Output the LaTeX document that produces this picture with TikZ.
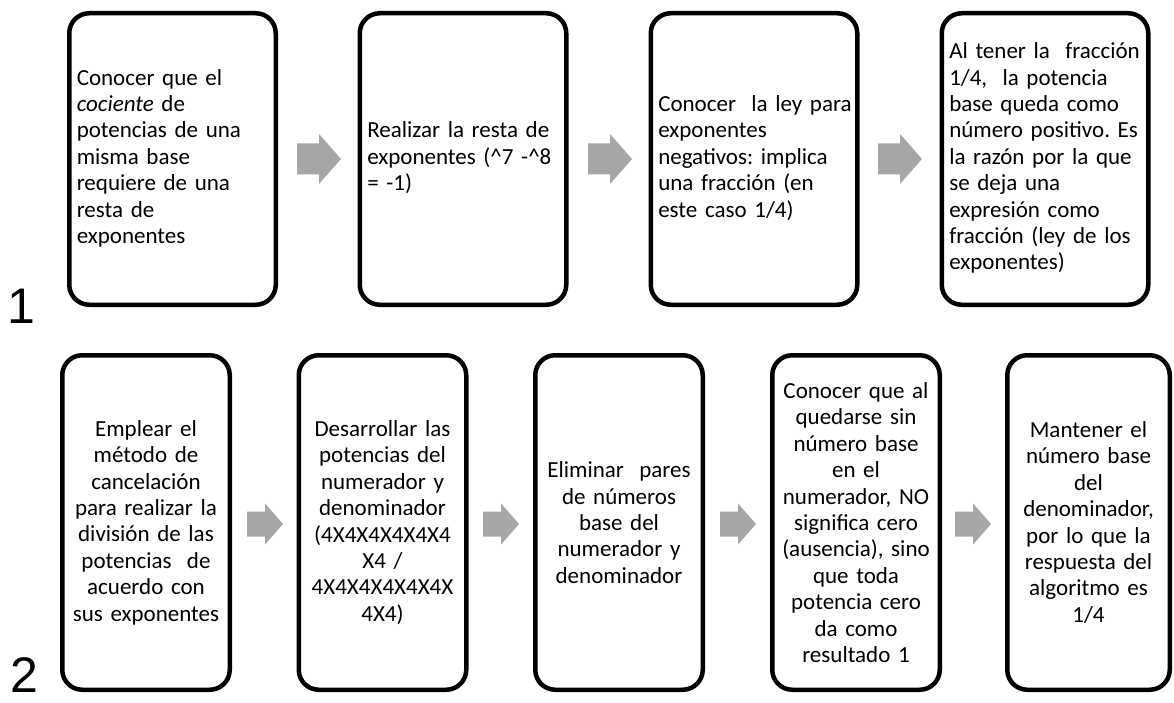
\documentclass[tikz,border=0pt]{standalone}
\usepackage{fontspec}
\setmainfont{Carlito}
\newfontfamily\numfont{Liberation Sans}
\definecolor{arrowfill}{RGB}{166,166,166}
% a block of lines set flush left, never re-wrapped
\newcommand\leftlines[1]{\begin{tabular}{@{}l@{}}#1\end{tabular}}
\tikzset{
  box/.style={draw=black, line width=4.5pt, rounded corners=20pt,
    inner xsep=7.5pt, inner ysep=0pt,
    font=\fontsize{23}{26.4}\selectfont\frenchspacing},
  topbox/.style={box, minimum width=206.5pt, text width=191.5pt,
    minimum height=291.5pt, align=left},
  botbox/.style={box, minimum width=167.5pt, text width=152.5pt,
    minimum height=334.5pt, align=center},
  rowlabel/.style={inner sep=0pt, anchor=base west,
    font=\numfont\fontsize{50}{60}\selectfont},
  % block arrow: length, shaft half-height, head half-height, head length
  pics/blockarrow/.style n args={4}{code={
    \fill[arrowfill] (0,-#2) -- ({#1-#4},-#2) -- ({#1-#4},-#3) -- (#1,0)
      -- ({#1-#4},#3) -- ({#1-#4},#2) -- (0,#2) -- cycle;}}
}
\begin{document}
\begin{tikzpicture}[x=1pt,y=-1pt]
\useasboundingbox[fill=white] (0,0) rectangle (1174,703);

% first row
\node[topbox] (a1) at (172.5,159) {\leftlines{Conocer que el\\\textit{cociente} de\\potencias de una\\misma base\\requiere de una\\resta de\\exponentes}};
\node[topbox] (a2) at (463,159) {\leftlines{Realizar la resta de\\exponentes (\^{}7 -\^{}8\\= -1)}};
\node[topbox] (a3) at (754,159) {\leftlines{Conocer\ \ la ley para\\exponentes\\negativos: implica\\una fracción (en\\este caso 1/4)}};
\node[topbox] (a4) at (1045,159) {\leftlines{Al tener la\ \ fracción\\1/4,\ \ la potencia\\base queda como\\número positivo. Es\\la razón por la que\\se deja una\\expresión como\\fracción (ley de los\\exponentes)}};

\pic at (297,159) {blockarrow={44}{15.5}{25}{22}};
\pic at (588,159) {blockarrow={44}{15.5}{25}{22}};
\pic at (878,159) {blockarrow={44}{15.5}{25}{22}};

\node[rowlabel] (n1) at (7,323) {1};

% second row
\node[botbox] (b1) at (146,522.5) {Emplear el\\método de\\cancelación\\para realizar la\\división de las\\potencias\ \ de\\acuerdo con\\sus exponentes};
\node[botbox] (b2) at (382.5,522.5) {Desarrollar las\\potencias del\\numerador y\\denominador\\(4X4X4X4X4X4\\X4 /\\4X4X4X4X4X4X\\4X4)};
\node[botbox] (b3) at (619,522.5) {Eliminar\ \ pares\\de números\\base del\\numerador y\\denominador};
\node[botbox] (b4) at (856,522.5) {Conocer que al\\quedarse sin\\número base\\en el\\numerador, NO\\significa cero\\(ausencia), sino\\que toda\\potencia cero\\da como\\resultado 1};
\node[botbox, minimum width=162.5pt, text width=147.5pt] (b5) at (1088.5,522.5) {Mantener el\\número base\\del\\denominador,\\por lo que la\\respuesta del\\algoritmo es\\1/4};

\pic at (247,524) {blockarrow={36}{12.5}{20.5}{18}};
\pic at (483,524) {blockarrow={36}{12.5}{20.5}{18}};
\pic at (720,524) {blockarrow={36}{12.5}{20.5}{18}};
\pic at (955,524) {blockarrow={36}{12.5}{20.5}{18}};

\node[rowlabel] (n2) at (10,692) {2};
\end{tikzpicture}
\end{document}
